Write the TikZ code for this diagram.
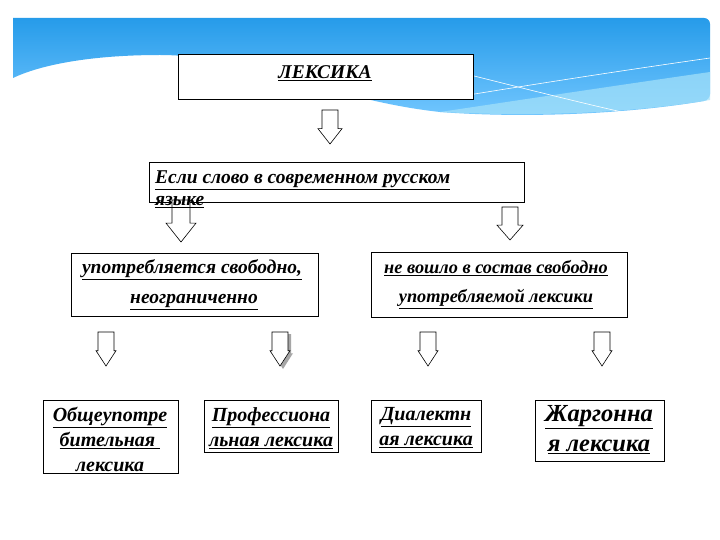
\documentclass[tikz,border=0pt]{standalone}
\usepackage{fontspec}
\setmainfont{Liberation Serif}
\tikzset{
  bx/.style={draw=black,fill=white,line width=0.8pt},
  arr/.style={draw=black,fill=white,line width=0.6pt},
  tx/.style={font=\bfseries\itshape\fontsize{19.5}{22}\selectfont,inner sep=0pt},
}
\newcommand{\ul}[1]{\underline{#1}}
\newcommand{\darrow}[6][arr]{% x, top, bottom, half shaft, half head
  \path[#1] (#2-#5,#3) -- (#2+#5,#3) -- (#2+#5,#4-0.45*#4+0.45*#3) -- (#2+#6,#4-0.45*#4+0.45*#3) -- (#2,#4) -- (#2-#6,#4-0.45*#4+0.45*#3) -- (#2-#5,#4-0.45*#4+0.45*#3) -- cycle;}
\begin{document}
\begin{tikzpicture}[x=1pt,y=-1pt]
\useasboundingbox (0,0) rectangle (720,540);
\fill[white] (0,0) rectangle (720,540);
% background band
\shade[top color=blue!40!cyan!90!black!85, bottom color=cyan!60!blue!55, rounded corners=6pt]
  (13,18) -- (710,18) -- (710,100) [sharp corners] .. controls (620,115) and (520,118) .. (440,112)
  .. controls (330,100) and (250,55) .. (160,55) .. controls (90,55) and (40,65) .. (13,78) -- cycle;
\fill[cyan!35!white,opacity=0.7] (710,72) .. controls (620,85) and (520,100) .. (440,112)
  .. controls (560,118) and (650,110) .. (710,100) -- cycle;
\draw[white,line width=0.6pt] (450,98) .. controls (560,80) and (640,68) .. (710,58);
\draw[white,line width=0.6pt] (470,75) .. controls (550,95) and (610,110) .. (650,118);
% nodes
\node[bx,minimum width=295,minimum height=45,anchor=north west] (lex) at (178,54) {};
\node[tx] (lext) at (325,73) {\ul{ЛЕКСИКА}};
\node[bx,minimum width=375,minimum height=40,anchor=north west] (esli) at (149,162) {};
\darrow{330}{110}{144}{8}{12}
\darrow{181}{200}{242}{9}{15}
\darrow{510}{207}{240}{8}{13}
\node[tx,anchor=west] (eslit) at (155,180) {\ul{Если слово в современном русском}};
\node[tx,anchor=west] (eslit2) at (155,202) {\ul{языке}};
\node[bx,minimum width=247,minimum height=63,anchor=north west] (l) at (71,253) {};
\node[tx] at (192,270) {\ul{употребляется свободно,}};
\node[tx] at (194,302) {\ul{неограниченно}};
\node[bx,minimum width=256,minimum height=65,anchor=north west] (r) at (371,252) {};
\node[tx,font=\bfseries\itshape\fontsize{18.3}{22}\selectfont] at (496,268) {\ul{не вошло в состав свободно}};
\node[tx,font=\bfseries\itshape\fontsize{18.3}{22}\selectfont] at (496,299) {\ul{употребляемой лексики}};
\darrow{106}{332}{366}{8}{10}
\darrow[fill=gray!70,draw=none]{283}{334}{369}{8}{10}
\darrow{280}{332}{366}{8}{10}
\darrow{428}{332}{366}{8}{10}
\darrow{602}{332}{366}{8}{10}
\tikzset{bt/.style={tx,align=center,font=\bfseries\itshape\fontsize{20}{25}\selectfont,anchor=north}}
\node[bx,minimum width=135,minimum height=73,anchor=north west] (b1) at (43,400) {};
\node[bt] at (110,407) {\ul{Общеупотре}\\\ul{бительная }\\\ul{лексика}};
\node[bx,minimum width=134,minimum height=52,anchor=north west] (b2) at (204,400) {};
\node[bt] at (271,407) {\ul{Профессиона}\\\ul{льная лексика}};
\node[bx,minimum width=110,minimum height=52,anchor=north west] (b3) at (371,400) {};
\node[bt] at (426,407) {\ul{Диалектн}\\\ul{ая лексика}};
\node[bx,minimum width=129,minimum height=61,anchor=north west] (b4) at (535,400) {};
\node[bt,font=\bfseries\itshape\fontsize{24.5}{30}\selectfont] at (599,405) {\ul{Жаргонна}\\\ul{я лексика}};
\end{tikzpicture}
\end{document}
